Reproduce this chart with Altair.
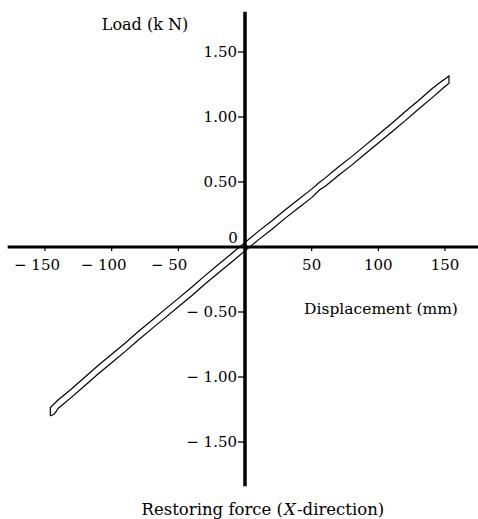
import altair as alt
import pandas as pd

# ---- data ----
upper_x = [153, 151, 145, 140, 130, 120, 110, 100, 90, 80, 70, 60, 55, 50, 40, 30, 20, 10, 0,
           -10, -20, -30, -40, -50, -60, -70, -80, -90, -100, -110, -120, -130, -140, -146]
upper_y = [1.315, 1.30, 1.255, 1.215, 1.125, 1.04, 0.95, 0.865, 0.78, 0.695, 0.615, 0.53, 0.49, 0.445,
           0.365, 0.285, 0.20, 0.12, 0.035,
           -0.05, -0.135, -0.22, -0.31, -0.395, -0.48, -0.565, -0.65, -0.74, -0.825, -0.91,
           -1.00, -1.09, -1.175, -1.235]
lower_x = [-146, -143, -140, -130, -120, -110, -100, -90, -80, -70, -60, -50, -40, -30, -20, -10, 0,
           10, 20, 30, 40, 50, 56, 60, 70, 80, 90, 100, 110, 120, 130, 140, 150, 153]
lower_y = [-1.30, -1.285, -1.24, -1.155, -1.065, -0.975, -0.89, -0.805, -0.715, -0.63, -0.545, -0.46,
           -0.375, -0.285, -0.20, -0.115, -0.03,
           0.055, 0.135, 0.22, 0.30, 0.38, 0.44, 0.465, 0.55, 0.63, 0.715, 0.80, 0.885, 0.97,
           1.06, 1.145, 1.235, 1.26]

x_ticks = [-150, -100, -50, 50, 100, 150]
x_tick_labels = ["− 150", "− 100", "− 50", "50", "100", "150"]
y_ticks = [1.5, 1.0, 0.5, -0.5, -1.0, -1.5]
y_tick_labels = ["1.50", "1.00", "0.50", "− 0.50", "− 1.00", "− 1.50"]

x_axis_range = [-178, 175]
y_axis_range = [-1.84, 1.81]

FONT = "DejaVu Serif"
FS = 15

xs = lower_x + upper_x + [lower_x[0]]
ys = lower_y + upper_y + [lower_y[0]]
loop = pd.DataFrame({"x": xs, "y": ys, "i": list(range(len(xs)))})

xscale = alt.Scale(domain=[-183.75, 174.75], nice=False, zero=False)
yscale = alt.Scale(domain=[-2.0923, 1.9], nice=False, zero=False)

X = lambda f: alt.X(f, scale=xscale, axis=None)
Y = lambda f: alt.Y(f, scale=yscale, axis=None)

loop_line = alt.Chart(loop).mark_line(color="black", strokeWidth=1.2).encode(
    x=X("x:Q"), y=Y("y:Q"), order="i:Q"
)

hax = alt.Chart(pd.DataFrame({"x": [x_axis_range[0]], "x2": [x_axis_range[1]], "y": [0]})).mark_rule(
    color="black", strokeWidth=3
).encode(x=X("x:Q"), x2="x2:Q", y=Y("y:Q"))

vax = alt.Chart(pd.DataFrame({"x": [0], "y": [y_axis_range[0]], "y2": [y_axis_range[1]]})).mark_rule(
    color="black", strokeWidth=3.5
).encode(x=X("x:Q"), y=Y("y:Q"), y2="y2:Q")

ydf = pd.DataFrame({"y": y_ticks, "label": y_tick_labels})
yticks = alt.Chart(ydf).mark_rule(color="black", strokeWidth=1.3).encode(
    y=Y("y:Q"), x=alt.value(238), x2=alt.value(245)
)
ylabels = alt.Chart(ydf).mark_text(font=FONT, fontSize=FS, align="right", baseline="middle", dx=-1).encode(
    y=Y("y:Q"), x=alt.value(238), text="label:N"
)

xdf = pd.DataFrame({"x": x_ticks, "label": x_tick_labels})
xticks = alt.Chart(xdf).mark_rule(color="black", strokeWidth=1.2).encode(
    x=X("x:Q"), y=alt.value(247), y2=alt.value(251)
)
pos = xdf[xdf.x > 0]
neg3 = xdf[xdf.x <= -100]
neg2 = xdf[(xdf.x < 0) & (xdf.x > -100)]
xl_pos = alt.Chart(pos).mark_text(font=FONT, fontSize=FS, align="center", baseline="alphabetic").encode(
    x=X("x:Q"), y=alt.value(270), text="label:N"
)
xl_neg3 = alt.Chart(neg3).mark_text(font=FONT, fontSize=FS, align="right", baseline="alphabetic", dx=15).encode(
    x=X("x:Q"), y=alt.value(270), text="label:N"
)
xl_neg2 = alt.Chart(neg2).mark_text(font=FONT, fontSize=FS, align="right", baseline="alphabetic", dx=9).encode(
    x=X("x:Q"), y=alt.value(270), text="label:N"
)

zero = alt.Chart(pd.DataFrame({"x": [0], "y": [0], "t": ["0"]})).mark_text(
    font=FONT, fontSize=FS, align="center", baseline="alphabetic", dx=-12, dy=-4
).encode(x=X("x:Q"), y=Y("y:Q"), text="t:N")

def label(txt, px, py, align="center", style="normal", size=FS):
    return alt.Chart(pd.DataFrame({"t": [txt]})).mark_text(
        font=FONT, fontSize=size, align=align, baseline="middle", fontStyle=style
    ).encode(x=alt.value(px), y=alt.value(py), text="t:N")

titles = [
    label("Load (k N)", 145, 25, size=16),
    label("Displacement (mm)", 381, 309, size=15.5),
    label("Restoring force (", 283, 510, align="right", size=16.5),
    label("X", 284, 510, align="left", style="italic", size=16.5),
    label("-direction)", 297, 510, align="left", size=16.5),
]

chart = alt.layer(loop_line, hax, vax, yticks, ylabels, xticks, xl_pos, xl_neg3, xl_neg2, zero, *titles).properties(
    width=478, height=519, padding=0, autosize=alt.AutoSizeParams(type="none")
).configure_view(stroke=None)

chart.save("out.html", embed_options={"renderer": "svg", "actions": False})
